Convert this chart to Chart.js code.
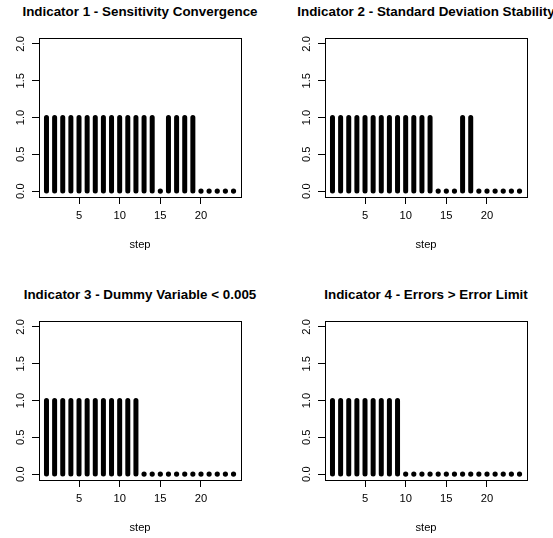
<!DOCTYPE html>
<html>
<head>
<meta charset="utf-8">
<script src="https://cdn.jsdelivr.net/npm/chart.js@4.4.1/dist/chart.umd.min.js"></script>
<style>
  body { margin: 0; background: #fff; width: 553px; height: 538px; overflow: hidden; position: relative; font-family: "Liberation Sans", Arial, sans-serif; }
  canvas { position: absolute; }
  .title { position: absolute; width: 320px; text-align: center; font-weight: bold; font-size: 13.4px; line-height: 16px; color: #000; white-space: nowrap; }
</style>
</head>
<body>
<div id="t0" class="title"></div><div id="t1" class="title"></div>
<div id="t2" class="title"></div><div id="t3" class="title"></div>
<canvas id="c0" width="260" height="265"></canvas>
<canvas id="c1" width="260" height="265"></canvas>
<canvas id="c2" width="260" height="265"></canvas>
<canvas id="c3" width="260" height="265"></canvas>
<script>
// data (1 = indicator met at that step)
const steps = [1, 2, 3, 4, 5, 6, 7, 8, 9, 10, 11, 12, 13, 14, 15, 16, 17, 18, 19, 20, 21, 22, 23, 24];
const indicator1 = [1, 1, 1, 1, 1, 1, 1, 1, 1, 1, 1, 1, 1, 1, 0, 1, 1, 1, 1, 0, 0, 0, 0, 0];
const indicator2 = [1, 1, 1, 1, 1, 1, 1, 1, 1, 1, 1, 1, 1, 0, 0, 0, 1, 1, 0, 0, 0, 0, 0, 0];
const indicator3 = [1, 1, 1, 1, 1, 1, 1, 1, 1, 1, 1, 1, 0, 0, 0, 0, 0, 0, 0, 0, 0, 0, 0, 0];
const indicator4 = [1, 1, 1, 1, 1, 1, 1, 1, 1, 0, 0, 0, 0, 0, 0, 0, 0, 0, 0, 0, 0, 0, 0, 0];
const titles = [
    "Indicator 1 - Sensitivity Convergence",
    "Indicator 2 - Standard Deviation Stability",
    "Indicator 3 - Dummy Variable < 0.005",
    "Indicator 4 - Errors > Error Limit"
];
const xTicks = [5, 10, 15, 20];
const yTicks = [0, 0.5, 1, 1.5, 2];
const xLabel = "step";

const FONT = "'Liberation Sans', Arial, sans-serif";
const panelLeft = [0, 286, 0, 286];
const panelTop = [0, 0, 283, 283];

// draws the R style frame round the plot region
const boxPlugin = {
    id: "box",
    afterDraw(chart) {
        const { ctx, chartArea: a } = chart;
        ctx.save();
        ctx.strokeStyle = "#000";
        ctx.lineWidth = 1;
        ctx.strokeRect(Math.round(a.left) + 0.5, Math.round(a.top) + 0.5,
            Math.round(a.right - a.left), Math.round(a.bottom - a.top));
        ctx.restore();
    }
};

function makeChart(id, values) {
    // type="h": one vertical stroke per step, zero steps become a dot
    let segs = [];
    let dots = [];
    steps.forEach((s, i) => {
        if (values[i] > 0) {
            segs.push({ x: s, y: 0 }, { x: s, y: values[i] }, { x: s, y: null });
        } else {
            dots.push({ x: s, y: values[i] });
        }
    });

    return new Chart(document.getElementById(id), {
        type: "line",
        data: {
            datasets: [
                {
                    data: segs,
                    borderColor: "#000",
                    borderWidth: 5,
                    borderCapStyle: "round",
                    pointRadius: 0,
                    spanGaps: false,
                    tension: 0
                },
                {
                    data: dots,
                    showLine: false,
                    pointRadius: 2.6,
                    pointBackgroundColor: "#000",
                    pointBorderWidth: 0
                }
            ]
        },
        options: {
            responsive: false,
            animation: false,
            events: [],
            layout: { padding: { top: 38, left: 0, right: 19, bottom: 0 } },
            plugins: { legend: { display: false }, tooltip: { enabled: false } },
            scales: {
                x: {
                    type: "linear",
                    min: 0.08,
                    max: 24.92,
                    afterBuildTicks: s => { s.ticks = xTicks.map(v => ({ value: v })); },
                    afterFit: s => { s.height = 68; },
                    grid: { drawOnChartArea: false, drawTicks: true, tickLength: 7, color: "#000" },
                    border: { display: false },
                    ticks: { color: "#000", font: { family: FONT, size: 11.2 }, padding: 5, autoSkip: false, maxRotation: 0 },
                    title: { display: true, text: xLabel, color: "#000", font: { family: FONT, size: 11.2 }, padding: { top: 0, bottom: 13 } }
                },
                y: {
                    min: -0.08,
                    max: 2.08,
                    afterBuildTicks: s => { s.ticks = yTicks.map(v => ({ value: v })); },
                    afterFit: s => { s.width = 39; },
                    grid: { drawOnChartArea: false, drawTicks: true, tickLength: 7, color: "#000" },
                    border: { display: false },
                    ticks: {
                        color: "#000", font: { family: FONT, size: 11.2 }, padding: 3,
                        minRotation: 90, maxRotation: 90, crossAlign: "center",
                        callback: v => Number(v).toFixed(1)
                    }
                }
            }
        },
        plugins: [boxPlugin]
    });
}

const allValues = [indicator1, indicator2, indicator3, indicator4];
allValues.forEach((vals, i) => {
    let c = document.getElementById("c" + i);
    c.style.left = panelLeft[i] + "px";
    c.style.top = panelTop[i] + "px";
    let t = document.getElementById("t" + i);
    t.textContent = titles[i];
    t.style.left = (panelLeft[i] + 140 - 160) + "px";
    t.style.top = (panelTop[i] + 4) + "px";
    makeChart("c" + i, vals);
});
</script>
</body>
</html>
